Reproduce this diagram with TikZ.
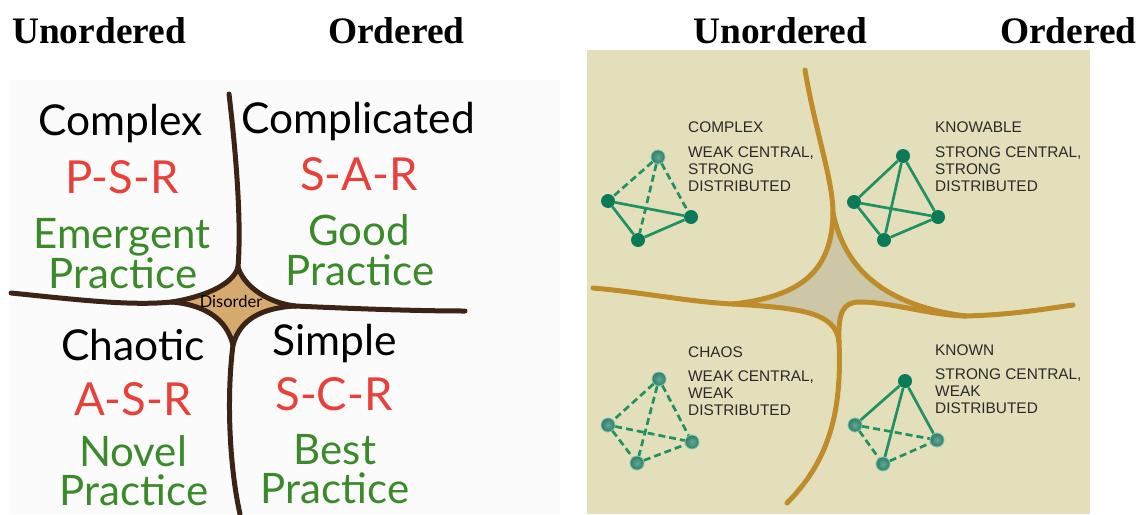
\documentclass[tikz,border=0pt]{standalone}
\usepackage{fontspec}
\setmainfont{Liberation Serif}
\newfontfamily\handfont{Lato}
\newfontfamily\capsfont{Liberation Sans}
\usetikzlibrary{calc}

\definecolor{panelbg}{HTML}{FBFBFB}
\definecolor{bark}{HTML}{3B2416}
\definecolor{disorderfill}{HTML}{D6A96F}
\definecolor{domainred}{HTML}{E8403A}
\definecolor{domaingreen}{HTML}{3A8A2A}
\definecolor{sand}{HTML}{E4DFBB}
\definecolor{ochre}{HTML}{BF8C2C}
\definecolor{centerfill}{HTML}{CCC7A7}
\definecolor{labelgrey}{HTML}{2A2A2A}
\definecolor{nodedark}{HTML}{0B7A58}
\definecolor{edgegreen}{HTML}{1F9163}
\definecolor{weakin}{HTML}{62A894}
\definecolor{weakout}{HTML}{2E7D69}
\definecolor{weakrim}{HTML}{7FC4AB}

\tikzset{
  header/.style={anchor=base west, inner sep=0pt, font=\fontsize{37.4}{40}\selectfont\bfseries},
  quadname/.style={anchor=base, inner sep=0pt, font=\handfont\fontsize{42.5}{46}\selectfont, text=black},
  method/.style={quadname, text=domainred, font=\handfont\fontsize{45.5}{48}\selectfont},
  practice/.style={quadname, text=domaingreen, font=\handfont\fontsize{42}{46}\selectfont},
  boundary/.style={draw=bark, line width=5pt, line cap=round, line join=round},
  gold/.style={draw=ochre, line width=5pt, line cap=round, line join=round},
  caps/.style={anchor=base west, inner sep=0pt, text=labelgrey, font=\capsfont\fontsize{15.4}{17}\selectfont},
  strongnode/.style={circle, inner sep=0pt, minimum size=14pt, fill=nodedark},
  weaknode/.style={circle, inner sep=0pt, minimum size=14pt, shading=radial,
                   inner color=weakin, outer color=weakout, draw=weakrim, line width=0.8pt},
  solidedge/.style={draw=edgegreen, line width=2.7pt},
  dashedge/.style={solidedge, dash pattern=on 7pt off 4pt},
}

\begin{document}
\begin{tikzpicture}[x=1pt,y=-1pt]
\useasboundingbox (0,0) rectangle (1139,514);
\fill[white] (0,0) rectangle (1139,514);

% ---------- column headings ----------
\node[header] (hUL) at (12,43) {Unordered};
\node[header] (hOL) at (328,43) {Ordered};
\node[header] (hUR) at (693,43) {Unordered};
\node[header] (hOR) at (1000,43) {Ordered};

% ---------- left panel: hand-drawn Cynefin ----------
\fill[panelbg] (10,80) rectangle (560,514);

\coordinate (lTop) at (229,94);
\coordinate (lSt) at (238,267);
\coordinate (lSl) at (172,302);
\coordinate (lSr) at (295,306);
\coordinate (lSb) at (233,345);
\coordinate (lLe) at (11,293);
\coordinate (lRe) at (465,311);
\coordinate (lBe) at (240,514);

% disorder star
\fill[disorderfill] (lSt) .. controls (234,283) and (208,296) .. (lSl)
  .. controls (206,305) and (227,320) .. (lSb)
  .. controls (240,319) and (262,308) .. (lSr)
  .. controls (264,302) and (243,284) .. (lSt) -- cycle;
\draw[boundary] (lSt) .. controls (234,283) and (208,296) .. (lSl);
\draw[boundary] (lSl) .. controls (206,305) and (227,320) .. (lSb);
\draw[boundary] (lSb) .. controls (240,319) and (262,308) .. (lSr);
\draw[boundary] (lSr) .. controls (264,302) and (243,284) .. (lSt);
% the four arms
\draw[boundary] (lTop) .. controls (238,170) and (241,230) .. (lSt);
\draw[boundary] (lLe) .. controls (80,300) and (130,306) .. (lSl);
\draw[boundary] (lSr) .. controls (360,309) and (420,311) .. (lRe);
\draw[boundary] (lSb) .. controls (226,400) and (230,470) .. (lBe);

\node[inner sep=0pt, font=\handfont\fontsize{16.5}{18}\selectfont] (disorder) at (231,301) {Disorder};

% quadrant texts
\node[quadname] (complexL) at (121,135) {Complex};
\node[method] (psr) at (122,193) {P-S-R};
\node[practice] (emergent) at (122,248) {Emergent};
\node[practice] (emergentP) at (123,288) {Practice};

\node[quadname] (complicated) at (358,133) {Complicated};
\node[method] (sar) at (359,190) {S-A-R};
\node[practice] (good) at (359,245) {Good};
\node[practice] (goodP) at (360,285) {Practice};

\node[quadname] (chaotic) at (133,360) {Chaotic};
\node[method] (asr) at (133,415) {A-S-R};
\node[practice] (novel) at (133,466) {Novel};
\node[practice] (novelP) at (134,505) {Practice};

\node[quadname] (simple) at (335,355) {Simple};
\node[method] (scr) at (334,410) {S-C-R};
\node[practice] (best) at (335,464) {Best};
\node[practice] (bestP) at (335,503) {Practice};

% ---------- right panel: network view ----------
\fill[sand] (587,50) rectangle (1090,514);

\coordinate (rTop) at (805,70);
\coordinate (rSt) at (833,213);
\coordinate (rSl) at (733,304);
\coordinate (rSb) at (839,342);
\coordinate (rSr) at (965,316);
\coordinate (rLe) at (593,288);
\coordinate (rRe) at (1073,305);
\coordinate (rBe) at (787,503);
\coordinate (rKink) at (860,302);

\fill[centerfill] (rSt) .. controls (832,268) and (805,296) .. (rSl)
  .. controls (800,308) and (836,312) .. (rSb)
  .. controls (838,312) and (843,302) .. (rKink)
  .. controls (890,302) and (930,315) .. (rSr)
  .. controls (885,305) and (845,270) .. (rSt) -- cycle;
\draw[gold] (rSt) .. controls (832,268) and (805,296) .. (rSl);
\draw[gold] (rSl) .. controls (800,308) and (836,312) .. (rSb);
\draw[gold] (rSb) .. controls (838,312) and (843,302) .. (rKink)
  .. controls (890,302) and (930,315) .. (rSr);
\draw[gold] (rSr) .. controls (885,305) and (845,270) .. (rSt);
\draw[gold] (rTop) .. controls (815,130) and (833,180) .. (rSt);
\draw[gold] (rLe) .. controls (640,292) and (690,302) .. (rSl);
\draw[gold] (rSr) .. controls (1010,315) and (1045,309) .. (rRe);
\draw[gold] (rSb) .. controls (842,410) and (830,460) .. (rBe);

% quadrant captions
\node[caps] (cxT) at (688,132) {COMPLEX};
\node[caps] (cx1) at (688,157) {WEAK CENTRAL,};
\node[caps] (cx2) at (688,174) {STRONG};
\node[caps] (cx3) at (688,191.5) {DISTRIBUTED};

\node[caps] (kbT) at (935,132) {KNOWABLE};
\node[caps] (kb1) at (935,157) {STRONG CENTRAL,};
\node[caps] (kb2) at (935,174) {STRONG};
\node[caps] (kb3) at (935,191.5) {DISTRIBUTED};

\node[caps] (chT) at (688,357) {CHAOS};
\node[caps] (ch1) at (688,381.5) {WEAK CENTRAL,};
\node[caps] (ch2) at (688,398.5) {WEAK};
\node[caps] (ch3) at (688,415.5) {DISTRIBUTED};

\node[caps] (knT) at (935,355) {KNOWN};
\node[caps] (kn1) at (935,379.5) {STRONG CENTRAL,};
\node[caps] (kn2) at (935,396.5) {WEAK};
\node[caps] (kn3) at (935,413.5) {DISTRIBUTED};

% complex: weak centre node, strong links between the others
\node[weaknode] (ct) at (658,157) {};
\node[strongnode] (cl) at (608,201) {};
\node[strongnode] (cr) at (691,217) {};
\node[strongnode] (cb) at (638,240) {};
\draw[dashedge] (ct) -- (cl);
\draw[dashedge] (ct) -- (cr);
\draw[dashedge] (ct) -- (cb);
\draw[solidedge] (cl) -- (cr);
\draw[solidedge] (cl) -- (cb);
\draw[solidedge] (cb) -- (cr);

% knowable: all strong
\node[strongnode] (kt) at (903,156) {};
\node[strongnode] (kl) at (854,202) {};
\node[strongnode] (kr) at (938,217) {};
\node[strongnode] (kb) at (884,240) {};
\draw[solidedge] (kt) -- (kl);
\draw[solidedge] (kt) -- (kr);
\draw[solidedge] (kt) -- (kb);
\draw[solidedge] (kl) -- (kr);
\draw[solidedge] (kl) -- (kb);
\draw[solidedge] (kb) -- (kr);

% chaos: all weak
\node[weaknode] (ht) at (659,379) {};
\node[weaknode] (hl) at (608,425) {};
\node[weaknode] (hr) at (692,442) {};
\node[weaknode] (hb) at (637,463) {};
\draw[dashedge] (ht) -- (hl);
\draw[dashedge] (ht) -- (hr);
\draw[dashedge] (ht) -- (hb);
\draw[dashedge] (hl) -- (hr);
\draw[dashedge] (hl) -- (hb);
\draw[dashedge] (hb) -- (hr);

% known: strong centre node, weak links between the others
\node[strongnode] (nt) at (905,381) {};
\node[weaknode] (nl) at (855,425) {};
\node[weaknode] (nr) at (937,440) {};
\node[weaknode] (nb) at (883,464) {};
\draw[solidedge] (nt) -- (nl);
\draw[solidedge] (nt) -- (nr);
\draw[solidedge] (nt) -- (nb);
\draw[dashedge] (nl) -- (nr);
\draw[dashedge] (nl) -- (nb);
\draw[dashedge] (nb) -- (nr);
\end{tikzpicture}
\end{document}
